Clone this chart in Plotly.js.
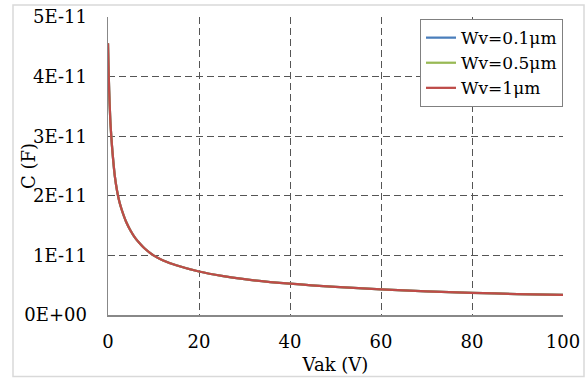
<!DOCTYPE html>
<html>
<head>
<meta charset="utf-8">
<script src="https://cdn.plot.ly/plotly-3.0.1.min.js"></script>
<style>html,body{margin:0;padding:0;background:#fff;}#chart{width:586px;height:378px;}</style>
</head>
<body>
<div id="chart"></div>
<script>
// Reverse voltage Vak (V)
const vak = [0, 0.1, 0.25, 0.5, 0.75, 1, 1.5, 2, 2.5, 3, 4, 5, 6, 7, 8, 10, 12, 15, 20, 25, 30, 40, 50, 60, 70, 80, 90, 100];
// Capacitance C (F) for each Wv
const cWv01 = [4.56e-11, 4.20e-11, 3.78e-11, 3.28e-11, 2.97e-11, 2.72e-11, 2.33e-11, 2.08e-11, 1.90e-11, 1.77e-11, 1.56e-11, 1.41e-11, 1.29e-11, 1.20e-11, 1.12e-11, 1.00e-11, 0.92e-11, 0.835e-11, 0.73e-11, 0.655e-11, 0.60e-11, 0.525e-11, 0.47e-11, 0.43e-11, 0.397e-11, 0.373e-11, 0.352e-11, 0.336e-11];
const cWv05 = [4.56e-11, 4.20e-11, 3.78e-11, 3.28e-11, 2.97e-11, 2.72e-11, 2.33e-11, 2.08e-11, 1.90e-11, 1.77e-11, 1.56e-11, 1.41e-11, 1.29e-11, 1.20e-11, 1.12e-11, 1.00e-11, 0.92e-11, 0.835e-11, 0.73e-11, 0.655e-11, 0.60e-11, 0.525e-11, 0.47e-11, 0.43e-11, 0.397e-11, 0.373e-11, 0.352e-11, 0.336e-11];
const cWv1  = [4.56e-11, 4.20e-11, 3.78e-11, 3.28e-11, 2.97e-11, 2.72e-11, 2.33e-11, 2.08e-11, 1.90e-11, 1.77e-11, 1.56e-11, 1.41e-11, 1.29e-11, 1.20e-11, 1.12e-11, 1.00e-11, 0.92e-11, 0.835e-11, 0.73e-11, 0.655e-11, 0.60e-11, 0.525e-11, 0.47e-11, 0.43e-11, 0.397e-11, 0.373e-11, 0.352e-11, 0.336e-11];
const seriesNames = ["Wv=0.1μm", "Wv=0.5μm", "Wv=1μm"];
const xTickVals = [0, 20, 40, 60, 80, 100];
const yTickVals = [0, 1e-11, 2e-11, 3e-11, 4e-11, 5e-11];
const yTickText = ["0E+00", "1E-11", "2E-11", "3E-11", "4E-11", "5E-11"];

const colors = ["#4a7ebb", "#98b954", "#be4b48"];
const ys = [cWv01, cWv05, cWv1];
const font = "DejaVu Serif";
const fs = 18;

const traces = ys.map((y, i) => ({
  x: vak, y: y, name: seriesNames[i], type: "scatter", mode: "lines",
  line: {color: colors[i], width: 2.25, shape: "spline", smoothing: 0.8}
}));

const layout = {
  width: 586, height: 378,
  margin: {l: 108, r: 23, t: 17, b: 63},
  paper_bgcolor: "#ffffff", plot_bgcolor: "#ffffff",
  font: {family: font, size: fs, color: "#000"},
  showlegend: true,
  legend: {x: 1, xanchor: "right", y: 0.993, yanchor: "top", bgcolor: "#ffffff",
           bordercolor: "#808080", borderwidth: 1, font: {family: font, size: 17, color: "#000"},
           tracegroupgap: 0, itemwidth: 30},
  xaxis: {range: [0, 100], tickvals: xTickVals, ticks: "", showline: true, linecolor: "#888888", linewidth: 1.5,
          showgrid: true, gridcolor: "#555555", gridwidth: 1, griddash: "7px,4px", zeroline: false,
          ticklabelstandoff: 10, tickfont: {family: font, size: fs, color: "#000"},
          title: {text: "Vak (V)", font: {family: font, size: fs, color: "#000"}, standoff: 7}},
  yaxis: {range: [0, 5e-11], tickvals: yTickVals, ticktext: yTickText, ticks: "", showline: true, linecolor: "#888888", linewidth: 1.5,
          showgrid: true, gridcolor: "#555555", gridwidth: 1, griddash: "7px,4px", zeroline: false,
          ticklabelstandoff: 16, tickfont: {family: font, size: fs, color: "#000"}},
  annotations: [{text: "C (F)", xref: "paper", yref: "paper", x: (28 - 108) / 455, y: 0.5, textangle: -90,
                 showarrow: false, xanchor: "center", yanchor: "middle", font: {family: font, size: fs, color: "#000"}}],
  shapes: [{type: "rect", xref: "paper", yref: "paper", x0: (13 - 108) / 455, x1: (584 - 108) / 455,
            y0: (315 - 376.5) / 298, y1: (315 - 5) / 298, line: {color: "#d9d9d9", width: 1.5}, layer: "below"}]
};

Plotly.newPlot("chart", traces, layout, {staticPlot: true, displayModeBar: false});
</script>
</body>
</html>
